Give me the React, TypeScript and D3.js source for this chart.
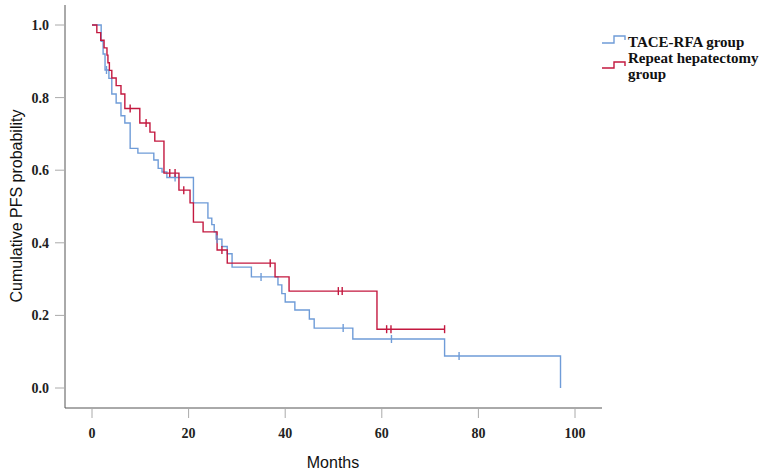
import React from "react";
import * as d3 from "d3";

const xTicks = [0, 20, 40, 60, 80, 100];
const yTicks = [0, 0.2, 0.4, 0.6, 0.8, 1.0];

const blueTimes = [0, 1.9, 2.3, 2.7, 3.5, 4.1, 5.0, 6.0, 6.8, 7.9, 9.5, 12.8, 13.7, 14.5, 15.5, 21, 24, 24.8, 25.3, 25.7, 26.9, 28, 29, 33, 38.5, 39.3, 40, 42, 45, 46, 54, 73, 97];
const blueSurv = [1, 0.955, 0.92, 0.876, 0.853, 0.81, 0.785, 0.75, 0.73, 0.66, 0.647, 0.628, 0.605, 0.595, 0.58, 0.51, 0.468, 0.45, 0.43, 0.41, 0.39, 0.37, 0.333, 0.306, 0.284, 0.26, 0.237, 0.215, 0.19, 0.165, 0.135, 0.088, 0];
const blueCensor = [3.0, 17.2, 25.9, 35, 52, 62, 76];

const redTimes = [0, 1.0, 1.8, 2.5, 3.1, 3.3, 3.6, 4.1, 5.0, 6.0, 6.8, 9.9, 12, 13, 14.9, 18, 20.3, 21, 23, 25.9, 28, 37.9, 40.8, 59];
const redSurv = [1, 0.979, 0.958, 0.937, 0.917, 0.896, 0.875, 0.854, 0.833, 0.81, 0.77, 0.73, 0.705, 0.68, 0.592, 0.545, 0.51, 0.457, 0.43, 0.38, 0.344, 0.306, 0.267, 0.162];
const redCensor = [7.9, 11.2, 16.1, 17.2, 19, 26.9, 36.9, 51, 51.8, 61, 61.9, 73];
const redEnd = 73;

const seriesNames = ["TACE-RFA group", "Repeat hepatectomy", "group"];

const BLUE = "#6F9CD8";
const RED = "#C3183F";

export default function App() {
  const x = d3.scaleLinear().domain([0, 100]).range([92, 575]);
  const y = d3.scaleLinear().domain([0, 1]).range([388, 25]);
  const line = d3
    .line<[number, number]>()
    .x((d) => x(d[0]))
    .y((d) => y(d[1]))
    .curve(d3.curveStepAfter);

  const bluePts: [number, number][] = blueTimes.map((t, i) => [t, blueSurv[i]]);
  const redPts: [number, number][] = redTimes.map((t, i) => [t, redSurv[i]]);
  redPts.push([redEnd, redSurv[redSurv.length - 1]]);

  const survAt = (times: number[], surv: number[], t: number) => {
    let s = surv[0];
    for (let i = 0; i < times.length; i++) if (times[i] <= t) s = surv[i];
    return s;
  };

  const serif = "'Liberation Serif', 'Times New Roman', serif";
  const sans = "'Liberation Sans', Arial, sans-serif";

  return (
    <svg width={767} height={473} style={{ position: "absolute", left: 0, top: 0, background: "#fff" }}>
      {/* axes */}
      <line x1={65} y1={5} x2={65} y2={408} stroke="#555" strokeWidth={1} />
      <line x1={65} y1={408} x2={602} y2={408} stroke="#555" strokeWidth={1} />
      {xTicks.map((t) => (
        <g key={"x" + t}>
          <line x1={x(t)} x2={x(t)} y1={408} y2={418} stroke="#aaa" />
          <text x={x(t)} y={438} textAnchor="middle" fontFamily={serif} fontWeight="bold" fontSize={14} fill="#222">
            {t}
          </text>
        </g>
      ))}
      {yTicks.map((t) => (
        <g key={"y" + t}>
          <line x1={55} x2={65} y1={y(t)} y2={y(t)} stroke="#aaa" />
          <text x={49} y={y(t) + 5} textAnchor="end" fontFamily={serif} fontWeight="bold" fontSize={14} fill="#222">
            {t.toFixed(1)}
          </text>
        </g>
      ))}
      <text x={333} y={468} textAnchor="middle" fontFamily={sans} fontSize={16} fill="#111">
        Months
      </text>
      <text
        transform={`translate(22,206) rotate(-90)`}
        textAnchor="middle"
        fontFamily={sans}
        fontSize={16}
        fill="#111"
      >
        Cumulative PFS probability
      </text>

      {/* curves */}
      <path d={line(bluePts) || ""} fill="none" stroke={BLUE} strokeWidth={1.4} />
      <path d={line(redPts) || ""} fill="none" stroke={RED} strokeWidth={1.4} />
      {blueCensor.map((t, i) => {
        const cy = y(survAt(blueTimes, blueSurv, t));
        return <line key={"bc" + i} x1={x(t)} x2={x(t)} y1={cy - 4} y2={cy + 4} stroke={BLUE} strokeWidth={1.4} />;
      })}
      {redCensor.map((t, i) => {
        const cy = y(survAt(redTimes, redSurv, t));
        return <line key={"rc" + i} x1={x(t)} x2={x(t)} y1={cy - 4} y2={cy + 4} stroke={RED} strokeWidth={1.4} />;
      })}

      {/* legend */}
      <path d="M602,43 H614 V36 H625 V40" fill="none" stroke={BLUE} strokeWidth={1.4} />
      <path d="M602,68 H614 V62 H625 V66" fill="none" stroke={RED} strokeWidth={1.4} />
      <text x={628} y={47} fontFamily={serif} fontWeight="bold" fontSize={15} fill="#111">
        {seriesNames[0]}
      </text>
      <text x={628} y={63} fontFamily={serif} fontWeight="bold" fontSize={15} fill="#111">
        {seriesNames[1]}
      </text>
      <text x={628} y={79} fontFamily={serif} fontWeight="bold" fontSize={15} fill="#111">
        {seriesNames[2]}
      </text>
    </svg>
  );
}
